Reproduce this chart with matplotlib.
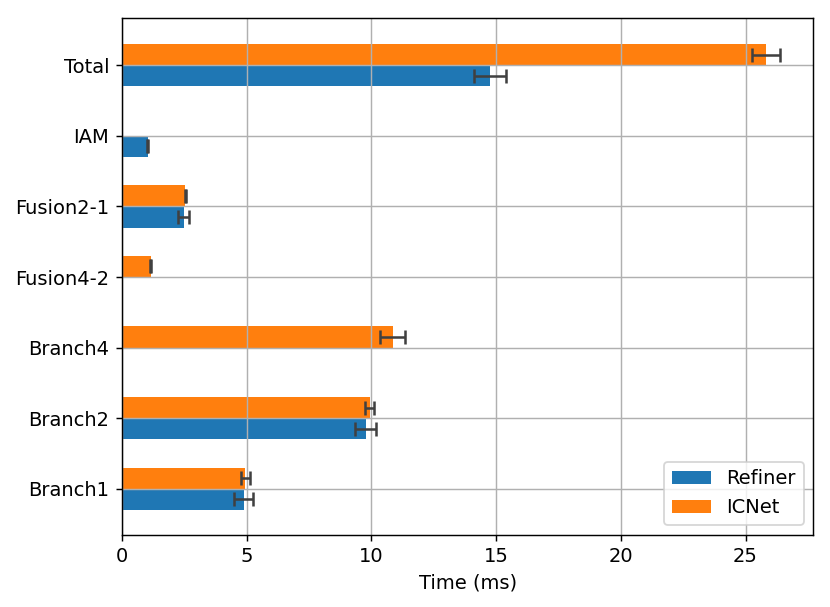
import numpy as np
import matplotlib
matplotlib.use("Agg")
import matplotlib.pyplot as plt

# timing data per module (ms), nan = module not used by that network
modules = ["Branch1", "Branch2", "Branch4", "Fusion4-2", "Fusion2-1", "IAM", "Total"]
refiner_time = [4.88, 9.78, np.nan, np.nan, 2.47, 1.03, 14.75]
refiner_err = [0.39, 0.42, np.nan, np.nan, 0.22, 0.03, 0.64]
icnet_time = [4.95, 9.94, 10.85, 1.15, 2.54, np.nan, 25.82]
icnet_err = [0.18, 0.18, 0.50, 0.03, 0.03, np.nan, 0.58]

plt.rcParams["font.size"] = 10.8

fig = plt.figure(figsize=(830 / 130, 607 / 130), dpi=130)
ax = fig.add_axes([0.147, 0.119, 0.833, 0.851])

y = np.arange(len(modules))
h = 0.3
err_kw = dict(ecolor="#404040", capsize=4, elinewidth=1.4, capthick=1.4)

ax.barh(y - h / 2, refiner_time, height=h, xerr=refiner_err, color="#1f77b4",
        label="Refiner", error_kw=err_kw)
ax.barh(y + h / 2, icnet_time, height=h, xerr=icnet_err, color="#ff7f0e",
        label="ICNet", error_kw=err_kw)

ax.set_yticks(y)
ax.set_yticklabels(modules)
ax.set_ylim(-0.65, 6.665)
ax.set_xlabel("Time (ms)")
ax.grid(True)
ax.legend(loc="lower right")

fig.savefig("out.png", dpi=130)
